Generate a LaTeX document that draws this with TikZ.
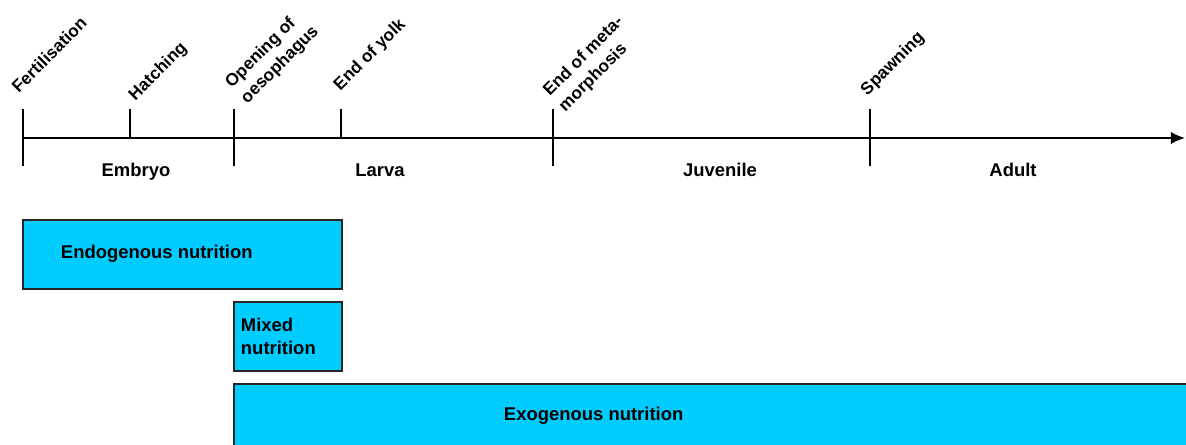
\documentclass[tikz,border=0pt]{standalone}
\usepackage{fontspec}
\setmainfont{Liberation Sans}
\usepackage{xcolor}
\usepackage{tikz}
\usetikzlibrary{arrows.meta}

\definecolor{nutricyan}{HTML}{00CCFF}

\begin{document}
\begin{tikzpicture}[x=0.02cm, y=-0.02cm, line width=1.1pt,
   font=\fontsize{10.5}{13}\selectfont\bfseries,
   event_style/.style={rotate=45, anchor=south west, inner sep=0pt, align=left,
      font=\fontsize{9.8}{12.5}\selectfont\bfseries},
   phase_style/.style={anchor=base, inner sep=0pt},
   box_style/.style={draw=black!85, line width=0.8pt, fill=nutricyan},
   text_style/.style={inner sep=0pt, align=left}]
	\useasboundingbox (0,0) rectangle (1186,445);
	\clip (0,0) rectangle (1186,445);

	% time axis
	\coordinate (t0) at (23,138);
	\coordinate (t1) at (1185,138);
	\draw [-{Latex[length=8pt,width=7pt]}] (t0) -- (t1);

	% events on the axis
	\foreach \x/\bot in {23/166, 130/138, 234/166, 341/138, 553/166, 870/166}
	  \draw (\x,109) -- (\x,\bot);

	\node [event_style] (fert)  at (19,95)   {Fertilisation};
	\node [event_style] (hatch) at (138,105) {Hatching};
	\node [event_style] (oeso)  at (250,108) {Opening of\\oesophagus};
	\node [event_style] (yolk)  at (343,95)  {End of yolk};
	\node [event_style] (meta)  at (568,116) {End of meta-\\morphosis};
	\node [event_style] (spawn) at (870,100) {Spawning};

	% phases
	\node [phase_style] (embryo)   at (136,177)  {Embryo};
	\node [phase_style] (larva)    at (380,177)  {Larva};
	\node [phase_style] (juvenile) at (720,177)  {Juvenile};
	\node [phase_style] (adult)    at (1013,177) {Adult};

	% nutrition
	\draw [box_style] (23,220) rectangle (342,289);
	\draw [box_style] (234,302) rectangle (342,371);
	\draw [box_style] (234,384) rectangle (1210,470);

	\node [text_style, anchor=base west] (endo) at (60,259)  {Endogenous nutrition};
	\node [text_style, anchor=north west] (mixed) at (240,317) {Mixed\\nutrition};
	\node [text_style, anchor=base west] (exo)  at (503,421) {Exogenous nutrition};
\end{tikzpicture}
\end{document}
